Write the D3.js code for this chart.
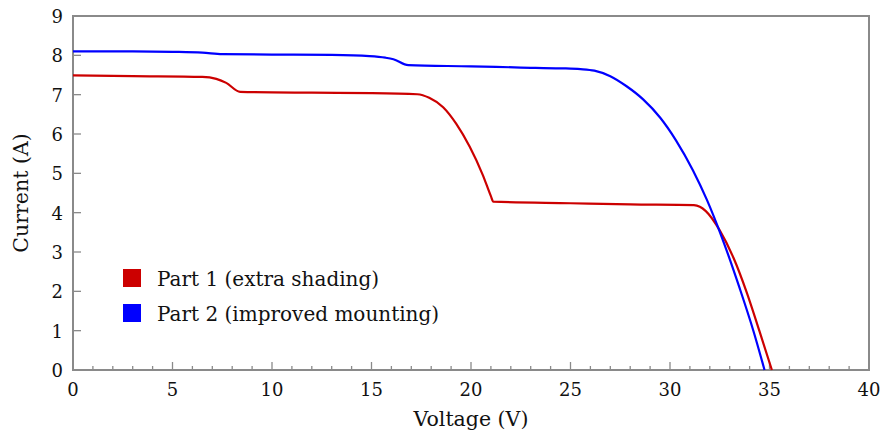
<!DOCTYPE html>
<html>
<head>
<meta charset="utf-8">
<script src="https://cdn.jsdelivr.net/npm/d3@7"></script>
<style>
  body { margin: 0; background: #fff; }
  text { font-family: "DejaVu Serif", "Liberation Serif", serif; fill: #111; }
</style>
</head>
<body>
<div id="chart"></div>
<script>
// data, [voltage, current]
var part1 = [[0,7.49],[3,7.47],[6.5,7.45],[7.2,7.4],[7.7,7.3],[8.4,7.07],[12,7.05],[15,7.04],[17.3,7.01],
  [17.9,6.92],[18.6,6.68],[19.27,6.25],[19.93,5.68],[20.6,4.95],[21.0,4.42],[21.12,4.28],[25,4.24],[28,4.21],
  [31.2,4.19],[31.5,4.15],[31.8,4.04],[32.5,3.55],[33.2,2.84],[33.85,1.98],[34.5,0.98],[35.12,0]];
var part2 = [[0,8.1],[3,8.1],[5,8.09],[6.5,8.07],[7.5,8.03],[10,8.02],[13,8.01],[14.9,7.98],[15.7,7.94],
  [16.1,7.9],[16.85,7.75],[20,7.72],[22.5,7.69],[24.5,7.67],[25.5,7.65],[26.2,7.61],[27,7.47],[27.8,7.22],
  [28.65,6.88],[29.5,6.42],[30.3,5.84],[31.15,5.08],[31.85,4.33],[32.6,3.38],[33.5,2.08],[34.2,0.98],[34.75,0]];
var seriesNames = ["Part 1 (extra shading)", "Part 2 (improved mounting)"];
var seriesColors = ["#cc0000", "#0000ff"];
var xTicks = [0, 5, 10, 15, 20, 25, 30, 35, 40];
var yTicks = [0, 1, 2, 3, 4, 5, 6, 7, 8, 9];

var margin = {top: 16, right: 11, bottom: 64, left: 73},
    width = 880,
    height = 434;

var svg = d3.select("#chart").append("svg")
    .attr("width", width)
    .attr("height", height);

var x = d3.scaleLinear().domain([0, 40]).range([margin.left, width - margin.right]);
var y = d3.scaleLinear().domain([0, 9]).range([height - margin.bottom, margin.top]);

var axisColor = "#8a8a8a";

// minor x ticks (every volt), pointing inward
svg.append("g")
    .selectAll("line")
    .data(d3.range(0, 41))
    .enter().append("line")
    .attr("x1", function (d) { return x(d); })
    .attr("x2", function (d) { return x(d); })
    .attr("y1", y(0))
    .attr("y2", function (d) { return y(0) - (d % 5 === 0 ? 8 : 4); })
    .attr("stroke", axisColor)
    .attr("stroke-width", 1.3);

// y ticks, pointing inward
svg.append("g")
    .selectAll("line")
    .data(yTicks)
    .enter().append("line")
    .attr("x1", x(0))
    .attr("x2", x(0) + 8)
    .attr("y1", function (d) { return y(d); })
    .attr("y2", function (d) { return y(d); })
    .attr("stroke", axisColor)
    .attr("stroke-width", 1.3);

// frame
svg.append("rect")
    .attr("x", x(0))
    .attr("y", y(9))
    .attr("width", x(40) - x(0))
    .attr("height", y(0) - y(9))
    .attr("fill", "none")
    .attr("stroke", axisColor)
    .attr("stroke-width", 2);

// tick labels
svg.append("g")
    .selectAll("text")
    .data(xTicks)
    .enter().append("text")
    .attr("x", function (d) { return x(d); })
    .attr("y", y(0) + 26)
    .attr("text-anchor", "middle")
    .style("font-size", "18px")
    .text(String);

svg.append("g")
    .selectAll("text")
    .data(yTicks)
    .enter().append("text")
    .attr("x", x(0) - 10)
    .attr("y", function (d) { return y(d) + 7; })
    .attr("text-anchor", "end")
    .style("font-size", "18px")
    .text(String);

// axis titles
svg.append("text")
    .attr("x", (x(0) + x(40)) / 2)
    .attr("y", 426)
    .attr("text-anchor", "middle")
    .style("font-size", "20.5px")
    .text("Voltage (V)");

svg.append("text")
    .attr("transform", "translate(28," + ((y(0) + y(9)) / 2) + ") rotate(-90)")
    .attr("text-anchor", "middle")
    .style("font-size", "20.5px")
    .text("Current (A)");

// curves
var line = d3.line()
    .x(function (d) { return x(d[0]); })
    .y(function (d) { return y(d[1]); })
    .curve(d3.curveMonotoneX);

[part1, part2].forEach(function (s, i) {
    svg.append("path")
        .datum(s)
        .attr("d", line)
        .attr("fill", "none")
        .attr("stroke", seriesColors[i])
        .attr("stroke-width", 2.2);
});

// legend
var legend = svg.append("g").attr("transform", "translate(123,269)");
seriesNames.forEach(function (name, i) {
    legend.append("rect")
        .attr("x", 0)
        .attr("y", i * 35)
        .attr("width", 18)
        .attr("height", 18)
        .attr("fill", seriesColors[i]);
    legend.append("text")
        .attr("x", 34)
        .attr("y", i * 35 + 17)
        .style("font-size", "20px")
        .text(name);
});
</script>
</body>
</html>
